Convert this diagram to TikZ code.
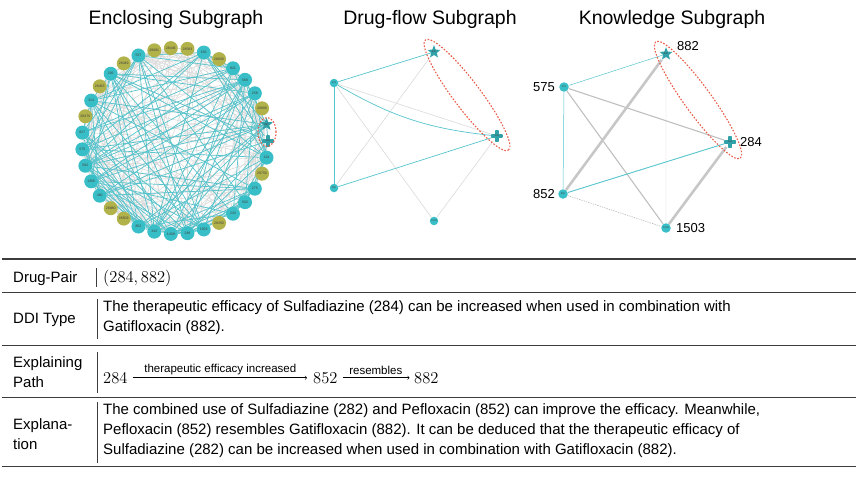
\RequirePackage{fix-cm}
\documentclass[tikz,border=0pt]{standalone}
\usepackage[no-math]{fontspec}
\setmainfont{Liberation Sans}
\usepackage{amsmath}
\usepackage{xcolor}
\usepackage{tikz}
\usetikzlibrary{shapes,arrows,positioning,fit,backgrounds}
\definecolor{tealnode}{RGB}{56, 190, 198}
\definecolor{olivenode}{RGB}{178, 178, 74}
\definecolor{tealedge}{RGB}{86, 196, 204}
\definecolor{greyedge}{RGB}{218, 218, 218}
\definecolor{ringred}{RGB}{232, 92, 72}
\definecolor{rulegrey}{RGB}{60, 60, 60}
\tikzstyle{enode} = [circle, fill=tealnode, inner sep=0pt, minimum size=14pt, text=black!75, font=\fontsize{3.5}{4}\selectfont]
\tikzstyle{dnode} = [circle, fill=tealnode, inner sep=0pt, minimum size=8.5pt, text=black!75, font=\fontsize{2.5}{3}\selectfont]
\tikzstyle{eteal} = [fill=tealnode]
\tikzstyle{eolive} = [fill=olivenode]
\tikzstyle{starnode} = [star, star points=5, star point ratio=2.3, fill=tealnode!85!black, inner sep=0pt, minimum size=11pt, text=black!75, font=\fontsize{2.5}{3}\selectfont]
\tikzstyle{plusnode} = [circle, fill=none, inner sep=0pt, minimum size=12pt, text=black!75, font=\fontsize{2.5}{3}\selectfont,
  path picture={\fill[tealnode!85!black] ([xshift=-6pt,yshift=-1.8pt]path picture bounding box.center) rectangle ([xshift=6pt,yshift=1.8pt]path picture bounding box.center);
    \fill[tealnode!85!black] ([xshift=-1.8pt,yshift=-6pt]path picture bounding box.center) rectangle ([xshift=1.8pt,yshift=6pt]path picture bounding box.center);}]
\tikzstyle{textonly} = [draw=none, fill=none, inner sep=0pt, align=left, font=\fontsize{15}{20}\selectfont]
\tikzstyle{mathonly} = [draw=none, fill=none, inner sep=0pt, font=\fontsize{16.5}{20}\selectfont]
\tikzstyle{plabel} = [draw=none, fill=none, inner sep=0pt, font=\fontsize{11.5}{13}\selectfont]
\tikzstyle{title} = [draw=none, fill=none, inner sep=0pt, font=\fontsize{19.5}{22}\selectfont]
\tikzstyle{klabel} = [draw=none, fill=none, inner sep=0pt, font=\fontsize{13}{14}\selectfont]
\tikzstyle{tedge} = [draw=tealedge, line width=0.7pt]
\tikzstyle{gedge} = [draw=greyedge, line width=0.6pt]
\tikzstyle{pedge} = [draw=black, line width=0.55pt, ->, >=to, shorten <=5pt]
\tikzstyle{ring} = [ellipse, draw=ringred, dash pattern=on 1.6pt off 1.6pt, line width=1.1pt, inner sep=0pt]
\tikzstyle{rule} = [draw=rulegrey, line width=0.9pt]

\begin{document}
\begin{tikzpicture}[x=1pt, y=-1pt]
\useasboundingbox (0,0) rectangle (864,477);

% titles =============================
\node[title, anchor=base] (tenc) at (176,24) {Enclosing Subgraph};
\node[title, anchor=base] (tflow) at (430,24) {Drug-flow Subgraph};
\node[title, anchor=base] (tknow) at (672,24) {Knowledge Subgraph};

% enclosing subgraph =============================
\foreach \lab/\sty [count=\n from 0] in {284/plusnode, 882/starnode, 28809/eolive, 258/eteal, 568/eteal, 821/eteal,
  28058/eolive, 633/eteal, 28583/eolive, 28446/eolive, 28081/eolive, 537/eteal, 28449/eolive, 292/eteal,
  28463/eolive, 314/eteal, 28475/eolive, 827/eteal, 575/eteal, 582/eteal, 1356/eteal, 460/eteal,
  28880/eolive, 28509/eolive, 852/eteal, 342/eteal, 1409/eteal, 249/eteal, 1503/eteal, 28350/eolive,
  243/eteal, 502/eteal, 275/eteal, 29750/eolive, 124/eteal}
  \node[enode, \sty] (e\n) at ({175+93*cos(-\n*360/35)}, {141+93*sin(-\n*360/35)}) {\lab};
\node[ring, minimum width=18pt, minimum height=29pt] (ering) at (267,132) {};

\begin{scope}[on background layer]
\pgfmathsetseed{17}
\foreach \i in {0,...,34}{
  \foreach \j in {0,...,34}{
    \pgfmathtruncatemacro\ok{(\j>\i)&&(rnd<0.36)}
    \ifnum\ok=1 \path[gedge] (e\i) -- (e\j); \fi
  }
}
\foreach \i in {0,1,3,4,5,7,11,13,15,17,18,19,20,21,24,25,26,27,28,30,31,32,34}{
  \foreach \j in {0,1,3,4,5,7,11,13,15,17,18,19,20,21,24,25,26,27,28,30,31,32,34}{
    \pgfmathtruncatemacro\ok{(\j>\i)&&(rnd<0.45)}
    \ifnum\ok=1 \path[tedge] (e\i) -- (e\j); \fi
  }
}
\end{scope}

% drug-flow subgraph =============================
\node[dnode] (d575) at (334,83) {575};
\node[starnode] (d882) at (434,52) {882};
\node[plusnode] (d284) at (497,136) {284};
\node[dnode] (d852) at (334,188) {852};
\node[dnode] (d1503) at (434,221) {1503};
\node[ring, rotate=-53, minimum width=138pt, minimum height=27pt] (dring) at (467,95) {};

\begin{scope}[on background layer]
\path[gedge] (d575) -- (d284);
\path[gedge] (d852) -- (d882);
\path[gedge] (d575) -- (d1503);
\path[gedge] (d1503) -- (d284);
\path[tedge] (d575) -- (d882);
\path[tedge] (d575) -- (d852);
\path[tedge] (d852) -- (d284);
\path[tedge] (d575) to [bend right=12] (d284);
\end{scope}

% knowledge subgraph =============================
\node[dnode, minimum size=9.5pt] (k575) at (564,87) {575};
\node[starnode] (k882) at (666,54) {882};
\node[plusnode] (k284) at (730,142) {284};
\node[dnode, minimum size=9.5pt] (k852) at (563,194) {852};
\node[dnode, minimum size=9.5pt] (k1503) at (666,228) {1503};
\node[klabel, anchor=west] (l882) at (677,46) {882};
\node[klabel, anchor=east] (l575) at (555,87) {575};
\node[klabel, anchor=west] (l284) at (740,142) {284};
\node[klabel, anchor=east] (l852) at (555,194) {852};
\node[klabel, anchor=west] (l1503) at (676,228) {1503};
\node[ring, rotate=-54, minimum width=144pt, minimum height=27pt] (kring) at (698,100) {};

\begin{scope}[on background layer]
\path[gedge, line width=0.3pt, draw=black!25, dash pattern=on 1pt off 0.6pt] (k1503) -- (k882);
\path[gedge, draw=black!30, dash pattern=on 1.2pt off 1.2pt] (k852) -- (k1503);
\path[gedge, draw=black!25, line width=1.1pt] (k575) -- (k284);
\path[gedge, draw=black!25, line width=1.1pt] (k575) -- (k1503);
\path[gedge, draw=black!22, line width=2.6pt] (k852) -- (k882);
\path[gedge, draw=black!22, line width=2.6pt] (k1503) -- (k284);
\path[tedge, line width=0.5pt] (k575) -- (k882);
\path[tedge, line width=0.5pt] (k575) -- (k852);
\path[tedge, line width=0.9pt] (k852) -- (k284);
\end{scope}

% table =============================
\path[rule, line width=1.2pt] (2,259) -- (856,259);
\path[rule] (2,292) -- (856,292);
\path[rule] (2,345) -- (856,345);
\path[rule] (2,397) -- (856,397);
\path[rule] (2,466) -- (856,466);

\node[textonly, anchor=base west] (lpair) at (13,282) {Drug-Pair};
\node[mathonly, anchor=base west] (vpair) at (103,282) {$(284, 882)$};
\path[rule, line width=0.6pt] (96,268) -- (96,287);

\node[textonly, anchor=base west] (ltype) at (13,323) {DDI Type};
\node[textonly, anchor=west] (vtype) at (103,318) {The therapeutic efficacy of Sulfadiazine (284) can be increased when used in combination with\\Gatifloxacin (882).};
\path[rule, line width=0.6pt] (97,299) -- (97,339);

\node[textonly, anchor=west] (lpath) at (13,372) {Explaining\\Path};
\node[mathonly, anchor=base west] (p284) at (103,383) {$284$};
\node[mathonly, anchor=base west] (p852) at (313,383) {$852$};
\node[mathonly, anchor=base west] (p882) at (414,383) {$882$};
\path[pedge, shorten >=6pt] (p284) -- node[plabel, above=2.5pt] (lincr) {therapeutic efficacy increased} (p852);
\path[pedge, shorten >=4.5pt] (p852) -- node[plabel, above=2.5pt] (lsim) {resembles} (p882);
\path[rule, line width=0.6pt] (97,352) -- (97,393);

\node[textonly, anchor=west] (lexpl) at (13,434) {Explana-\\tion};
\node[textonly, anchor=west] (vexpl) at (103,431) {The combined use of Sulfadiazine (282) and Pefloxacin (852) can improve the efficacy. Meanwhile,\\Pefloxacin (852) resembles Gatifloxacin (882). It can be deduced that the therapeutic efficacy of\\Sulfadiazine (282) can be increased when used in combination with Gatifloxacin (882).};
\path[rule, line width=0.6pt] (97,402) -- (97,463);

\end{tikzpicture}
\end{document}
